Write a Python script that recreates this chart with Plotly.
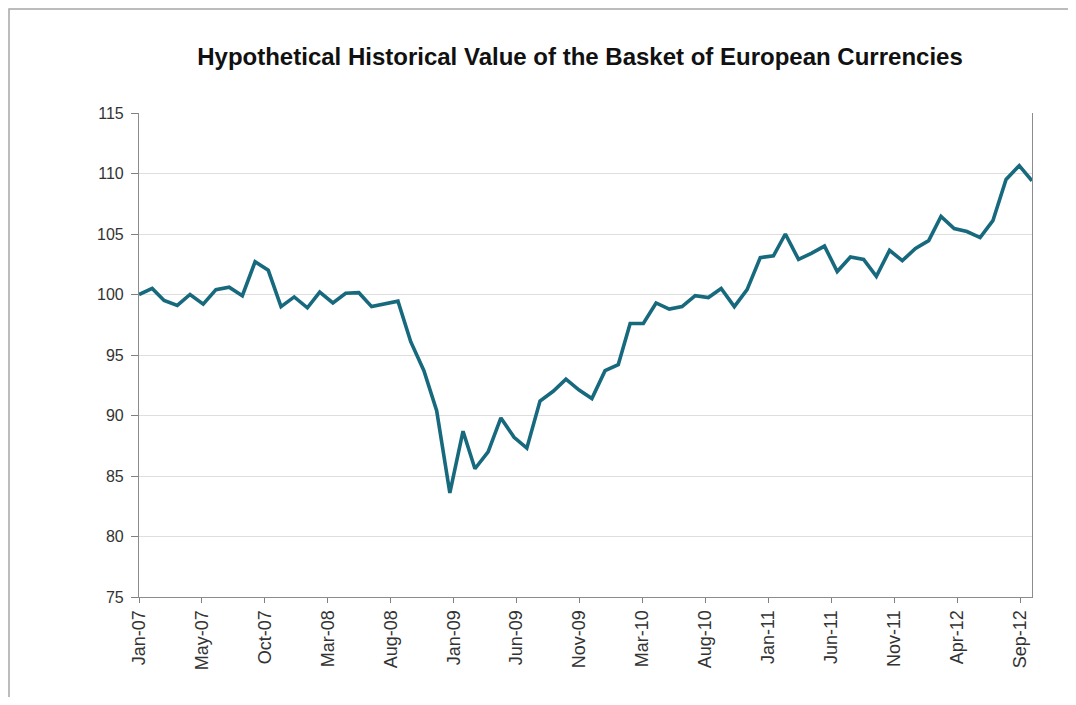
import plotly.graph_objects as go
import pandas as pd

title_text = "Hypothetical Historical Value of the Basket of European Currencies"

# Monthly index values, Jan-2007 .. Oct-2012
values = [
    100.0, 100.5, 99.5, 99.1, 100.0, 99.2, 100.4, 100.6, 99.9, 102.7,
    102.0, 99.0, 99.8, 98.9, 100.2, 99.3, 100.1, 100.15, 99.0, 99.2,
    99.45, 96.1, 93.7, 90.4, 83.6, 88.7, 85.6, 87.0, 89.8, 88.2,
    87.3, 91.2, 92.0, 93.0, 92.1, 91.4, 93.7, 94.2, 97.6, 97.6,
    99.3, 98.8, 99.0, 99.9, 99.75, 100.5, 99.0, 100.4, 103.05, 103.2,
    105.0, 102.9, 103.4, 104.0, 101.9, 103.1, 102.9, 101.5, 103.65, 102.8,
    103.8, 104.45, 106.45, 105.45, 105.2, 104.7, 106.1, 109.5, 110.65, 109.4,
]
dates = pd.date_range("2007-01-01", periods=len(values), freq="MS")

y_ticks = [75, 80, 85, 90, 95, 100, 105, 110, 115]
tick_days = 148  # spacing of the date-axis labels

W, H = 1060, 689
L, T, PW, PH = 131, 105, 893, 484

fig = go.Figure()
fig.add_trace(go.Scatter(
    x=dates, y=values, mode="lines",
    line=dict(color="#17697d", width=3.6),
    hoverinfo="x+y", showlegend=False,
))

fig.update_layout(
    width=W, height=H,
    margin=dict(l=L, r=W - L - PW, t=T, b=H - T - PH, pad=0),
    paper_bgcolor="white", plot_bgcolor="white",
    font=dict(family="Liberation Sans, Arial, sans-serif", color="#333333"),
    title=dict(
        text="<b>" + title_text + "</b>",
        x=572 / W, xanchor="center", xref="container",
        y=1 - 49 / H, yanchor="middle", yref="container",
        font=dict(size=24, color="#111111", family="Liberation Sans, Arial, sans-serif"),
    ),
    xaxis=dict(
        type="date",
        range=[dates[0], dates[-1]],
        tick0="2007-01-01",
        dtick=tick_days * 86400000,
        tickformat="%b-%y",
        tickangle=-90,
        ticks="outside", ticklen=5, tickcolor="#808080",
        showline=True, linecolor="#8c8c8c", linewidth=1.2,
        showgrid=False, zeroline=False,
        tickfont=dict(size=18, color="#333333"),
    ),
    yaxis=dict(
        range=[75, 115],
        tickvals=y_ticks,
        ticks="outside", ticklen=7, tickcolor="#808080",
        ticklabelstandoff=4,
        showline=True, linecolor="#8c8c8c", linewidth=1.2, mirror=True,
        showgrid=True, gridcolor="#dedede", gridwidth=1,
        zeroline=False,
        tickfont=dict(size=16, color="#333333"),
    ),
    shapes=[dict(
        type="rect", xref="paper", yref="paper",
        x0=(1 - L) / PW, x1=(W + 40 - L) / PW,
        y0=-(H + 40 - T - PH) / PH, y1=(T + PH - 1) / PH,
        line=dict(color="#a6a6a6", width=1.5), fillcolor="rgba(0,0,0,0)",
        layer="below",
    )],
)

fig.write_html("out.html")
